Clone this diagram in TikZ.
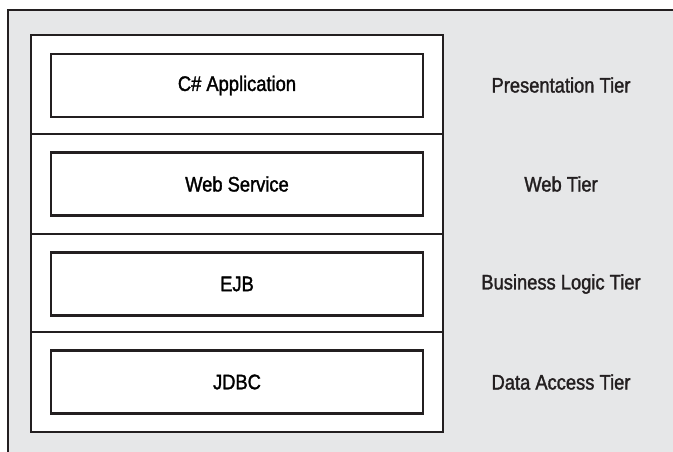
\documentclass[tikz,border=0pt]{standalone}
\usepackage{fontspec}
\setmainfont{Liberation Sans}[FakeStretch=0.87,FakeBold=1.5]
\usepackage{tikz}
\usetikzlibrary{positioning,calc}
\definecolor{pagegray}{HTML}{E6E7E8}
\definecolor{inkline}{HTML}{231F20}
\tikzset{
  tierbox/.style={draw=inkline,line width=1.7pt,fill=white,minimum width=279pt,minimum height=47.25pt,inner sep=0pt,font=\fontsize{15.8}{18}\selectfont},
  tierlabel/.style={inner sep=0pt,font=\fontsize{15.8}{18}\selectfont,text=inkline}
}

\begin{document}
\begin{tikzpicture}[x=0.75pt,y=-0.75pt]
\useasboundingbox (0,0) rectangle (673,452);
% gray page with its frame
\fill[pagegray] (8,10) rectangle (673,452);
\draw[inkline,line width=1.3pt] (8,452) -- (8,10) -- (673,10);

% stack of tiers
\node[draw=inkline,line width=1.7pt,fill=white,minimum width=309pt,minimum height=297.75pt,inner sep=0pt] (stack) at (237,233.5) {};
\coordinate (cut1) at (31,134);
\coordinate (cut2) at (31,234);
\coordinate (cut3) at (31,332);
\draw[inkline,line width=1.7pt] (cut1) -- (cut1 -| stack.east);
\draw[inkline,line width=1.7pt] (cut2) -- (cut2 -| stack.east);
\draw[inkline,line width=1.7pt] (cut3) -- (cut3 -| stack.east);

\node[tierbox] (app) at (237,85.5) {C\# Application};
\node[tierbox] (ws) at (237,184) {Web Service};
\node[tierbox] (ejb) at (237,284) {EJB};
\node[tierbox] (jdbc) at (237,382) {JDBC};

% names of the tiers
\node[tierlabel] (presentation) at (561,85) {Presentation Tier};
\node[tierlabel] (web) at (561,184) {Web Tier};
\node[tierlabel] (business) at (561,284) {Business Logic Tier};
\node[tierlabel] (data) at (561,382) {Data Access Tier};
\end{tikzpicture}
\end{document}
